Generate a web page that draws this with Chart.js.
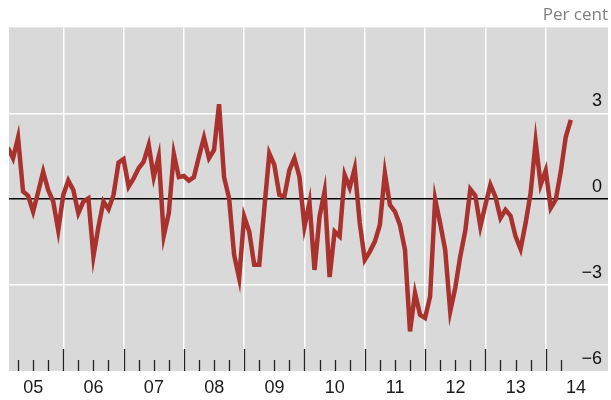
<!DOCTYPE html>
<html>
<head>
<meta charset="utf-8">
<script src="https://cdn.jsdelivr.net/npm/chart.js@4.4.1/dist/chart.umd.min.js"></script>
<style>
html,body{margin:0;padding:0;background:#fff}
</style>
</head>
<body>
<canvas id="c" width="611" height="400"></canvas>
<script>
// monthly series, first point = Feb 2005 (month 1 counting from Jan 2005)
const years = ['05','06','07','08','09','10','11','12','13','14']
const firstMonth = 1
const values = [
  1.8, 1.43, 2.15, 0.27, 0.12, -0.43, 0.25, 0.96, 0.32, -0.08, -1.09, 0.15,
  0.65, 0.32, -0.49, -0.08, 0.03, -2.0, -0.96, -0.08, -0.35, 0.15, 1.28, 1.4,
  0.44, 0.73, 1.08, 1.31, 1.89, 0.77, 1.49, -1.28, -0.49, 1.58, 0.77, 0.81,
  0.65, 0.77, 1.49, 2.15, 1.43, 1.72, 3.32, 0.77, 0.03, -1.95, -2.76, -0.61,
  -1.13, -2.29, -2.29, -0.34, 1.6, 1.2, 0.15, 0.09, 1.02, 1.43, 0.79, -0.96,
  -0.12, -2.47, -0.61, 0.27, -2.72, -1.13, -1.3, 0.85, 0.4, 1.08, -0.83, -2.12,
  -1.83, -1.48, -0.9, 0.91, -0.2, -0.43, -0.9, -1.77, -4.62, -3.28, -4.04, -4.15,
  -3.4, 0.0, -0.84, -1.77, -3.92, -3.1, -2.0, -1.1, 0.35, 0.12, -0.96, -0.2,
  0.5, 0.09, -0.66, -0.37, -0.58, -1.3, -1.74, -0.84, 0.21, 2.01, 0.5, 1.0,
  -0.31, -0.02, 0.96, 2.18, 2.77
]
const yTicks = [-6, -3, 0, 3, 6]
const yearTicks = [12, 24, 36, 48, 60, 72, 84, 96, 108, 120]
const quarterTicks = [3,6,9,12,15,18,21,24,27,30,33,36,39,42,45,48,51,54,57,60,63,66,69,72,75,78,81,84,87,90,93,96,99,102,105,108,111]

const FONT = '"Liberation Sans", Arial, sans-serif'

const bg = {
  id: 'bg',
  beforeDraw(chart){
    const {ctx, chartArea: a} = chart
    ctx.save()
    ctx.fillStyle = '#d9d9d9'
    ctx.fillRect(a.left, a.top, a.right - a.left, a.bottom - a.top)
    ctx.restore()
  }
}

const qticks = {
  id: 'qticks',
  afterDatasetsDraw(chart){
    const {ctx, chartArea: a, scales: {x}} = chart
    ctx.save()
    ctx.strokeStyle = '#222'
    ctx.lineWidth = 1.3
    quarterTicks.forEach(m => {
      const px = Math.round(x.getPixelForValue(m)) + 0.5
      const h = m % 12 === 0 ? 22 : 11
      ctx.beginPath()
      ctx.moveTo(px, a.bottom)
      ctx.lineTo(px, a.bottom - h)
      ctx.stroke()
    })
    ctx.restore()
  }
}

new Chart(document.getElementById('c'), {
  type: 'line',
  data: {
    datasets: [{
      data: values.map((v, i) => ({x: firstMonth + i, y: v})),
      borderColor: '#a9322e',
      borderWidth: 4.5,
      pointRadius: 0,
      tension: 0
    }]
  },
  options: {
    responsive: false,
    animation: false,
    layout: {padding: {top: 0, right: 3, left: 9, bottom: 1}},
    plugins: {
      legend: {display: false},
      tooltip: {enabled: false},
      title: {
        display: true, text: 'Per cent', align: 'end', color: '#808080',
        font: {family: '"Open Sans", sans-serif', size: 17, weight: 'normal'},
        padding: {top: 5, bottom: 2}
      }
    },
    scales: {
      x: {
        type: 'linear', min: 1.2, max: 120.4,
        afterBuildTicks: s => { s.ticks = yearTicks.map(v => ({value: v})) },
        afterFit: s => { s.paddingLeft = 0; s.paddingRight = 0; s.height = 28 },
        grid: {
          color: c => (c.tick && c.tick.value === 120) ? 'rgba(0,0,0,0)' : '#ffffff',
          lineWidth: 1.5, drawTicks: false
        },
        border: {display: false},
        ticks: {
          callback: v => years[v / 12 - 1],
          labelOffset: -30, padding: 6, autoSkip: false, maxRotation: 0,
          color: '#1a1a1a', font: {family: FONT, size: 18}
        }
      },
      y: {
        position: 'right', min: -6, max: 6,
        afterBuildTicks: s => { s.ticks = yTicks.map(v => ({value: v})) },
        afterFit: s => { s.width = 0 },
        grid: {
          color: c => {
            const v = c.tick ? c.tick.value : null
            if (v === 0) return '#000000'
            if (v === 3 || v === -3) return '#ffffff'
            return 'rgba(0,0,0,0)'
          },
          lineWidth: 1.5, drawTicks: false
        },
        border: {display: false},
        ticks: {
          mirror: true, padding: -6, labelOffset: -12,
          callback: v => v === 6 ? '' : (v < 0 ? '\u2212' + Math.abs(v) : String(v)),
          color: '#111', font: {family: FONT, size: 18}
        }
      }
    }
  },
  plugins: [bg, qticks]
})
</script>
</body>
</html>
